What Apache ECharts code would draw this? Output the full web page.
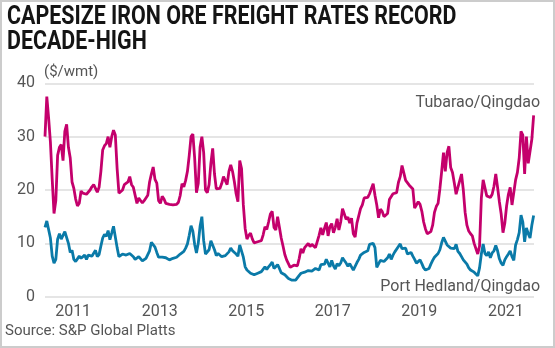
<!DOCTYPE html>
<html>
<head>
<meta charset="utf-8">
<script src="https://cdn.jsdelivr.net/npm/echarts@6/dist/echarts.min.js"></script>
<style>
html,body{margin:0;padding:0;background:#fff;}
#chart{width:555px;height:348px;}
</style>
</head>
<body>
<div id="chart"></div>
<script>
// Sampling: one value every half month, starting at startYear (decimal years)
const startYear = 2010.35;
const stepYears = 1 / 24;

const tubaraoQingdao = [
  30, 37.5, 33.5, 29, 22, 15.6, 18, 26.5, 28, 28.5,
  25.5, 31, 32.3, 28, 26, 21.5, 20.3, 18.3, 17, 17.5,
  19.8, 19.4, 19.5, 19.2, 19, 20, 20.6, 21, 20.8, 19.6,
  20.5, 23.5, 27.5, 28.3, 28.7, 30, 28, 30, 31.2, 30.3,
  24, 19.4, 19.2, 20, 21, 20.7, 21.5, 22.5, 21, 20.5,
  19, 17.5, 18.5, 18, 17.6, 18, 17.7, 19, 21.5, 23,
  24.3, 22, 21.3, 18, 17.5, 18.8, 18.3, 17.5, 17.6, 17.3,
  17.4, 17.2, 17.4, 17.3, 17.7, 19, 21.2, 20.6, 21.8, 23.5,
  26.5, 30, 30.5, 26, 19.5, 21.2, 28, 30, 27, 20,
  19.5, 21, 25, 27.8, 23, 20.2, 20.5, 20.3, 21.2, 22.5,
  22.5, 21, 23.5, 24.7, 23.5, 21.6, 19.3, 17.8, 25.5, 24,
  17.2, 12.8, 10.8, 11.5, 11.9, 10.8, 10.1, 10.3, 10.3, 10.1,
  10.5, 11.6, 13.1, 12.6, 14, 15.5, 16, 13, 12.5, 15,
  13, 11, 9.5, 7.9, 6.9, 6.7, 5.5, 5.3, 5.9, 6,
  5.8, 7.2, 9, 8.2, 9.2, 9, 10, 9.4, 9.8, 9.8,
  9.2, 9.5, 11.5, 12.9, 11.6, 12.8, 13.9, 11.4, 13.1, 13.7,
  12, 13, 14.6, 12.5, 14, 16.5, 15.5, 14.5, 14.9, 13.8,
  14.7, 11.8, 11.2, 13.8, 14, 16.5, 17.2, 18.5, 18.3, 18.6,
  19.3, 19, 21.2, 19, 17.2, 14.8, 16.4, 16, 15, 14.7,
  15.6, 18.2, 18.2, 19.3, 19.4, 19.5, 21.4, 22.5, 24.6, 23.2,
  21.8, 21.6, 20.9, 21, 20.2, 16.6, 16.9, 17.8, 17.3, 16,
  14, 12.7, 11.8, 11.7, 12.2, 13.4, 15.8, 16.9, 17.5, 20.2,
  23.5, 27, 23.5, 27, 28.2, 24.2, 23.3, 21.3, 19.2, 20.5,
  20.6, 23, 20, 15.8, 13.4, 12.3, 11.8, 11.4, 10, 10.3,
  8, 9.5, 18.5, 21.9, 22, 18.9, 19.2, 18.6, 19.2, 20.7,
  23, 20.5, 17.8, 15.5, 12, 13.75, 17, 19.2, 20.5, 17.2,
  17.5, 21.9, 23.3, 26, 31, 30.3, 23, 30, 25, 25.2,
  29.5, 34
];

const portHedlandQingdao = [
  13, 14.2, 14.2, 11, 7.6, 6.3, 7, 10.8, 11.8, 10.8,
  10.8, 12.2, 12.2, 10, 8.3, 8.7, 7, 6.6, 6.6, 7.6,
  7.2, 7.4, 7.8, 7, 7.8, 7.5, 7.6, 7.9, 8.7, 7.5,
  7.9, 9.5, 11, 11.7, 11.3, 12.4, 10.7, 11.9, 13.2, 13.3,
  9.2, 7.5, 7.5, 8, 7.9, 7.8, 8, 8.1, 7.8, 7.5,
  7, 6.7, 7.5, 7.2, 6.7, 6.8, 7.2, 7.9, 8.6, 10.2,
  10.5, 9.3, 8.3, 7.4, 7.3, 7.4, 7.5, 7.3, 7.1, 6.9,
  7, 7.2, 7.3, 7.4, 7.6, 8, 7.7, 8.5, 9.1, 9.9,
  11.5, 13.3, 12.3, 9.8, 8.2, 10, 13.2, 15, 10.5, 8,
  7.8, 8.8, 10.5, 10.6, 8.8, 7.7, 8.1, 7.8, 7.5, 7.8,
  7.7, 7.5, 8.4, 9.1, 8.6, 8.3, 8, 7.6, 9.7, 9.4,
  7.4, 5.6, 5, 4.7, 4.4, 4.2, 4.1, 4.3, 4.4, 4.4,
  4.7, 5, 5.6, 5.1, 5.6, 6, 6.5, 5.3, 5.2, 6,
  5.3, 4.5, 4.4, 4.1, 3.75, 3.4, 3.1, 3.1, 3.1, 3.1,
  3.3, 4, 4.4, 4.4, 4.6, 4.7, 4.9, 5, 4.8, 4.8,
  5.3, 5, 5, 6, 5.8, 6.1, 7, 6.3, 5.6, 6.8,
  5.8, 5.2, 6.2, 5.8, 6.3, 7.3, 6.8, 6.3, 5.7, 6.2,
  5.6, 5, 5.7, 6.4, 7, 7.8, 7.8, 8.3, 8.2, 8.6,
  9.8, 9.5, 10, 9.2, 5.5, 5.8, 6.8, 6.7, 6.6, 6.5,
  7.3, 8, 7, 7.8, 8.4, 8.1, 9.4, 9.9, 9, 8.8,
  9.1, 8, 7.9, 8.3, 7.6, 7, 6.3, 6.6, 6.9, 6.2,
  5.4, 5, 5.2, 5.3, 6.1, 6.8, 7.4, 7.5, 8.1, 8.8,
  10.1, 11.1, 10.4, 9.7, 10, 9.1, 9.2, 9, 9.8, 8.5,
  8.1, 7.5, 6.9, 6.6, 6.1, 5.4, 5, 4.7, 4.6, 4.3,
  3.9, 5.4, 8, 9.9, 8.1, 7.7, 8.4, 7.3, 8.2, 8.6,
  9.6, 8.6, 7.1, 6.3, 5.9, 6.9, 7.5, 8, 8.6, 7.5,
  6.8, 9.7, 10.7, 12, 15.3, 14, 10.3, 12.9, 11.8, 11,
  13.4, 15.2
];

const yearTicks = [2011, 2013, 2015, 2017, 2019, 2021];
const yTicks = [0, 10, 20, 30, 40];

const dates = tubaraoQingdao.map((_, i) => startYear + i * stepYears);

const chart = echarts.init(document.getElementById('chart'), null, {renderer: 'canvas'});
const labelFont = 'Roboto, "Noto Sans", sans-serif';
const option = {
  animation: false,
  backgroundColor: '#fff',
  grid: {left: 45, right: 21, top: 83.3, bottom: 51.3},
  xAxis: {
    type: 'value',
    min: startYear,
    max: 2021.65,
    axisLine: {show: false},
    axisTick: {show: false},
    splitLine: {show: false},
    axisLabel: {
      customValues: yearTicks,
      formatter: v => String(Math.round(v)),
      color: '#555', fontSize: 16, fontFamily: labelFont, margin: 7
    }
  },
  yAxis: {
    type: 'value',
    min: yTicks[0], max: yTicks[yTicks.length - 1], interval: 10,
    axisLine: {show: false},
    axisTick: {show: false},
    axisLabel: {color: '#555', fontSize: 16, fontFamily: labelFont, margin: 10},
    splitLine: {lineStyle: {color: '#dcdcdc', width: 1.5}}
  },
  series: [
    {
      name: 'Port Hedland/Qingdao', type: 'line', showSymbol: false,
      data: dates.map((d, i) => [d, portHedlandQingdao[i]]),
      lineStyle: {color: '#0a7aa8', width: 2.8},
      itemStyle: {color: '#0a7aa8'}
    },
    {
      name: 'Tubarao/Qingdao', type: 'line', showSymbol: false,
      data: dates.map((d, i) => [d, tubaraoQingdao[i]]),
      lineStyle: {color: '#c4006c', width: 2.8},
      itemStyle: {color: '#c4006c'}
    }
  ],
  graphic: [
    {type: 'rect', shape: {x: 1, y: 1, width: 553, height: 346}, style: {fill: 'none', stroke: '#cccccc', lineWidth: 2}, silent: true},
    {type: 'text', x: 7, y: 18, scaleX: 0.856, style: {text: 'CAPESIZE IRON ORE FREIGHT RATES RECORD', font: 'bold 25px Roboto', fill: '#141414', verticalAlign: 'middle'}},
    {type: 'text', x: 7, y: 43, scaleX: 0.856, style: {text: 'DECADE-HIGH', font: 'bold 25px Roboto', fill: '#141414', verticalAlign: 'middle'}},
    {type: 'text', x: 44, y: 72, style: {text: '($/wmt)', font: '15px Roboto', fill: '#555', verticalAlign: 'middle'}},
    {type: 'text', x: 540, y: 103, style: {text: 'Tubarao/Qingdao', font: '16px Roboto', fill: '#555', align: 'right', verticalAlign: 'middle'}},
    {type: 'text', x: 540, y: 287, style: {text: 'Port Hedland/Qingdao', font: '16px Roboto', fill: '#555', align: 'right', verticalAlign: 'middle'}},
    {type: 'text', x: 5, y: 331, style: {text: 'Source: S&P Global Platts', font: '15px Roboto', fill: '#555', verticalAlign: 'middle'}}
  ]
};
chart.setOption(option);
</script>
</body>
</html>
